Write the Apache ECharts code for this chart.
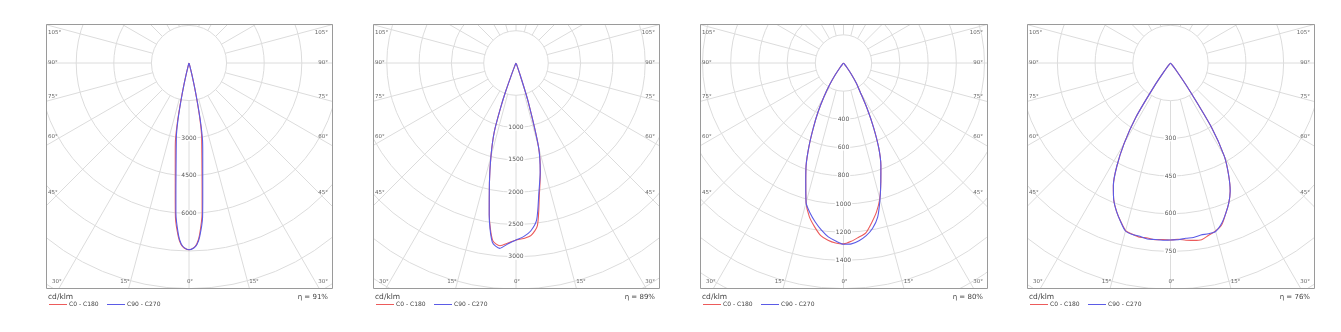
<!DOCTYPE html>
<html>
<head>
<meta charset="utf-8">
<script src="https://cdn.jsdelivr.net/npm/echarts@6/dist/echarts.min.js"></script>
<style>
html,body{margin:0;padding:0;background:#fff;}
#wrap{position:relative;width:1341px;height:332px;overflow:hidden;background:#fff;}
.pn{position:absolute;top:0;height:332px;}
</style>
</head>
<body>
<div id="wrap"></div>
<script>
// ---------------- DATA ----------------
// gamma angles (deg) per diagram, intensities in cd/klm
const gamma1 = [0, 1.5, 2.5, 3.5, 5, 6, 7.5, 9, 10, 11, 12, 13, 14, 15, 17.5, 20, 25, 45, 90];
const p1C0   = [7450, 7370, 7220, 6880, 6000, 5000, 3950, 3250, 2880, 2300, 1550, 900, 420, 170, 40, 10, 0, 0, 0];
const p1C180 = [7450, 7380, 7250, 6950, 6200, 5250, 4200, 3500, 3100, 2450, 1650, 950, 450, 180, 40, 10, 0, 0, 0];
const p1C90  = [7450, 7380, 7250, 6950, 6200, 5250, 4200, 3500, 3100, 2450, 1650, 950, 450, 180, 40, 10, 0, 0, 0];
const p1C270 = [7450, 7370, 7220, 6880, 6000, 5000, 3950, 3250, 2880, 2300, 1550, 900, 420, 170, 40, 10, 0, 0, 0];

const gamma2 = [0, 2.5, 5, 7.5, 10, 12.5, 15, 17.5, 19, 20, 21, 22.5, 25, 30, 45, 90];
const p2C0   = [2740, 2720, 2680, 2540, 2080, 1740, 1350, 620, 200, 80, 30, 10, 0, 0, 0, 0];
const p2C180 = [2740, 2790, 2840, 2770, 2380, 1900, 1500, 1120, 730, 470, 200, 60, 10, 0, 0, 0];
const p2C90  = [2740, 2690, 2610, 2450, 2040, 1730, 1350, 620, 200, 80, 30, 10, 0, 0, 0, 0];
const p2C270 = [2740, 2800, 2880, 2800, 2390, 1900, 1500, 1120, 730, 470, 200, 60, 10, 0, 0, 0];

const gamma3 = [0, 2.5, 5, 7.5, 10, 12.5, 15, 17.5, 20, 22.5, 25, 27.5, 30, 32.5, 35, 37.5, 40, 45, 90];
const p3C0   = [1283, 1266, 1240, 1215, 1150, 1082, 995, 880, 775, 654, 505, 360, 235, 170, 95, 40, 12, 0, 0];
const p3C180 = [1283, 1278, 1262, 1235, 1180, 1118, 1025, 890, 776, 640, 505, 390, 280, 185, 100, 40, 12, 0, 0];
const p3C90  = [1285, 1284, 1265, 1235, 1190, 1120, 1000, 880, 775, 654, 505, 360, 235, 170, 95, 40, 12, 0, 0];
const p3C270 = [1285, 1264, 1238, 1196, 1147, 1092, 1025, 890, 776, 640, 505, 390, 280, 185, 100, 40, 12, 0, 0];

const gamma4 = [0, 2.5, 5, 7.5, 10, 12.5, 15, 17.5, 20, 22.5, 25, 27.5, 30, 32.5, 35, 37.5, 40, 45, 90];
const p4C0   = [704, 702, 708, 712, 714, 702, 692, 676, 640, 605, 562, 500, 428, 305, 120, 40, 10, 0, 0];
const p4C180 = [704, 703, 706, 702, 704, 698, 690, 660, 628, 590, 538, 462, 368, 258, 110, 35, 10, 0, 0];
const p4C90  = [704, 704, 700, 700, 695, 696, 694, 672, 640, 605, 562, 500, 428, 305, 120, 40, 10, 0, 0];
const p4C270 = [704, 706, 705, 706, 700, 699, 692, 661, 628, 590, 538, 462, 368, 258, 110, 35, 10, 0, 0];

// ring steps, axis max, ring labels shown
const ringSteps  = [1500, 500, 200, 150];
const ringMax    = [12000, 4500, 2000, 1200];
const ringLabels1 = [3000, 4500, 6000];
const ringLabels2 = [1000, 1500, 2000, 2500, 3000];
const ringLabels3 = [400, 600, 800, 1000, 1200, 1400];
const ringLabels4 = [300, 450, 600, 750];

const sideAngleLabels   = ['105°', '90°', '75°', '60°', '45°'];
const bottomAngleLabels = ['30°', '15°', '0°', '15°', '30°'];
const etaValues = [91, 89, 80, 76];
const unitLabel = 'cd/klm';
const seriesNames = ['C0 - C180', 'C90 - C270'];

// ---------------- LAYOUT / STYLE ----------------
const FONT = 'DejaVu Sans';
const RED = '#ec5b5b';
const BLUE = '#5b5be6';
const GRID = '#dcdcdc';
const FRAME = '#9a9a9a';
const layout = [
  {L: 46,   R: 332,  px: 37.6},
  {L: 373,  R: 659,  px: 32.3},
  {L: 700,  R: 987,  px: 28.2},
  {L: 1027, R: 1314, px: 37.7}
];
const frameTop = 24, frameBottom = 288, centerY = 63;
const sideLabelY = [33, 63, 97, 137, 193];
const bottomLabelY = 281.5;

const panels = [
  {gamma: gamma1, c0: p1C0, c180: p1C180, c90: p1C90, c270: p1C270, labels: ringLabels1},
  {gamma: gamma2, c0: p2C0, c180: p2C180, c90: p2C90, c270: p2C270, labels: ringLabels2},
  {gamma: gamma3, c0: p3C0, c180: p3C180, c90: p3C90, c270: p3C270, labels: ringLabels3},
  {gamma: gamma4, c0: p4C0, c180: p4C180, c90: p4C90, c270: p4C270, labels: ringLabels4}
];

// a plane: left half (gamma 90 -> 0, angle 360-g), right half (gamma 0 -> 90, angle g)
function plane(gamma, left, right) {
  const out = [];
  for (let i = gamma.length - 1; i >= 0; i--) out.push([left[i], 360 - gamma[i]]);
  for (let i = 1; i < gamma.length; i++) out.push([right[i], gamma[i]]);
  return out;
}

const wrap = document.getElementById('wrap');
panels.forEach((p, i) => {
  const lay = layout[i];
  const w = lay.R - lay.L + 1;
  const div = document.createElement('div');
  div.className = 'pn';
  div.style.left = lay.L + 'px';
  div.style.width = w + 'px';
  wrap.appendChild(div);
  const chart = echarts.init(div, null, {renderer: 'canvas', width: w, height: 332});
  const cx = (w - 1) / 2;
  const step = ringSteps[i], max = ringMax[i];
  const radiusPx = max / step * lay.px;
  const ring1 = lay.px;

  const g = [];
  // inner blank circle (spokes start at first ring)
  g.push({type: 'circle', z: 1, silent: true, shape: {cx: cx, cy: centerY, r: ring1}, style: {fill: '#fff'}});
  // masks outside frame
  g.push({type: 'rect', z: 10, silent: true, shape: {x: 0, y: 0, width: w, height: frameTop}, style: {fill: '#fff'}});
  g.push({type: 'rect', z: 10, silent: true, shape: {x: 0, y: frameBottom + 1, width: w, height: 332 - frameBottom}, style: {fill: '#fff'}});
  // frame
  g.push({type: 'rect', z: 20, silent: true, shape: {x: 0.5, y: frameTop + 0.5, width: w - 1, height: frameBottom - frameTop}, style: {fill: 'none', stroke: FRAME, lineWidth: 1}});
  const angStyle = {fontSize: 5.5, fontFamily: FONT, fill: '#666'};
  sideAngleLabels.forEach((t, k) => {
    g.push({type: 'text', z: 21, x: 2, y: sideLabelY[k], style: Object.assign({text: t, align: 'left', verticalAlign: 'middle'}, angStyle)});
    g.push({type: 'text', z: 21, x: w - 5, y: sideLabelY[k], style: Object.assign({text: t, align: 'right', verticalAlign: 'middle'}, angStyle)});
  });
  const bx = [6, cx - 64, cx + 1, cx + 65, w - 5];
  const ba = ['left', 'center', 'center', 'center', 'right'];
  bottomAngleLabels.forEach((t, k) => {
    g.push({type: 'text', z: 21, x: bx[k], y: bottomLabelY, style: Object.assign({text: t, align: ba[k], verticalAlign: 'middle'}, angStyle)});
  });
  // legend block
  g.push({type: 'text', z: 21, x: 2, y: 297, style: {text: unitLabel, fontSize: 7.5, fontFamily: FONT, fill: '#444', align: 'left', verticalAlign: 'middle'}});
  g.push({type: 'line', z: 21, shape: {x1: 3, y1: 304.5, x2: 21, y2: 304.5}, style: {stroke: RED, lineWidth: 1}});
  g.push({type: 'text', z: 21, x: 23, y: 304.5, style: {text: seriesNames[0], fontSize: 6, fontFamily: FONT, fill: '#444', align: 'left', verticalAlign: 'middle'}});
  g.push({type: 'line', z: 21, shape: {x1: 61, y1: 304.5, x2: 79, y2: 304.5}, style: {stroke: BLUE, lineWidth: 1}});
  g.push({type: 'text', z: 21, x: 81, y: 304.5, style: {text: seriesNames[1], fontSize: 6, fontFamily: FONT, fill: '#444', align: 'left', verticalAlign: 'middle'}});
  g.push({type: 'text', z: 21, x: w - 5, y: 297, style: {text: 'η = ' + etaValues[i] + '%', fontSize: 7, fontFamily: FONT, fill: '#444', align: 'right', verticalAlign: 'middle'}});

  chart.setOption({
    animation: false,
    polar: {center: [cx, centerY], radius: radiusPx},
    angleAxis: {
      type: 'value', min: 0, max: 360, interval: 15, startAngle: 270, clockwise: false, z: 0,
      axisLine: {show: false}, axisTick: {show: false}, axisLabel: {show: false},
      splitLine: {show: true, lineStyle: {color: GRID, width: 1}}
    },
    radiusAxis: {
      type: 'value', min: 0, max: max, interval: step, z: 2,
      axisLine: {show: false}, axisTick: {show: false},
      splitLine: {show: true, lineStyle: {color: GRID, width: 1}},
      axisLabel: {
        margin: 0, align: 'center', verticalAlign: 'middle',
        formatter: v => p.labels.indexOf(v) >= 0 ? '{b|' + v + '}' : '',
        rich: {b: {fontSize: 6, fontFamily: FONT, color: '#555', backgroundColor: '#fff', padding: [0, 1]}}
      }
    },
    series: [
      {name: seriesNames[0], type: 'line', coordinateSystem: 'polar', z: 3, symbol: 'none', smooth: 0.25,
       lineStyle: {color: RED, width: 1.1}, data: plane(p.gamma, p.c180, p.c0)},
      {name: seriesNames[1], type: 'line', coordinateSystem: 'polar', z: 3, symbol: 'none', smooth: 0.25,
       lineStyle: {color: BLUE, width: 1.1}, data: plane(p.gamma, p.c270, p.c90)}
    ],
    graphic: {elements: g}
  });
});
</script>
</body>
</html>
